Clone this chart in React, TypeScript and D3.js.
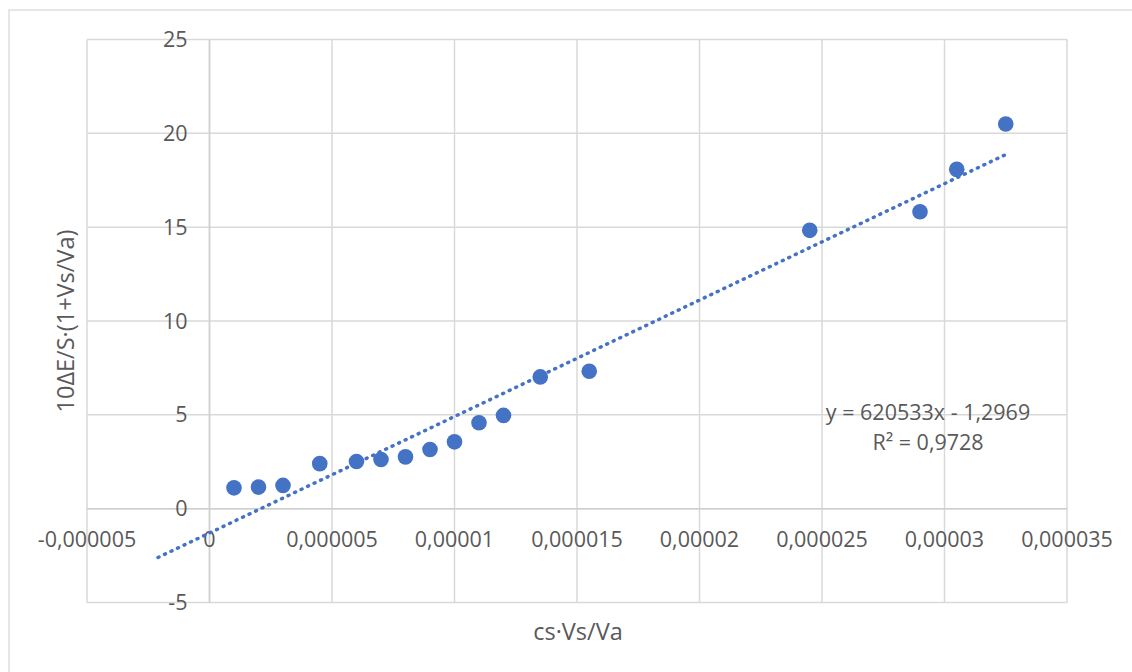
import React from "react";
import * as d3 from "d3";

const xValues = [
  0.000001, 0.000002, 0.000003, 0.0000045, 0.000006, 0.000007, 0.000008, 0.000009,
  0.00001, 0.000011, 0.000012, 0.0000135, 0.0000155, 0.0000245, 0.000029, 0.0000305, 0.0000325,
];
const yValues = [
  1.11, 1.15, 1.24, 2.4, 2.51, 2.62, 2.76, 3.15, 3.56, 4.58, 4.97, 7.02, 7.32, 14.83, 15.82, 18.08, 20.5,
];
const xTicks = [-0.000005, 0, 0.000005, 0.00001, 0.000015, 0.00002, 0.000025, 0.00003, 0.000035];
const xTickLabels = ["-0,000005", "0", "0,000005", "0,00001", "0,000015", "0,00002", "0,000025", "0,00003", "0,000035"];
const yTicks = [-5, 0, 5, 10, 15, 20, 25];
const slope = 620533;
const intercept = -1.2969;
const trendStartX = -0.0000021;
const trendEndX = 0.0000325;
const equationLines = ["y = 620533x - 1,2969", "R² = 0,9728"];
const xTitle = "cs·Vs/Va";
const yTitle = "10ΔE/S·(1+Vs/Va)";

export default function App() {
  const W = 1132, H = 672;
  const left = 87, right = 1067, top = 39.5, bottom = 602.5;
  const x = d3.scaleLinear().domain([-0.000005, 0.000035]).range([left, right]);
  const y = d3.scaleLinear().domain([-5, 25]).range([bottom, top]);
  const font = "'Open Sans', 'Noto Sans', sans-serif";
  const textColor = "#595959";
  const grid = "#d9d9d9";
  const line = d3.line<number>().x((d) => x(d)).y((d) => y(slope * d + intercept));
  const points = xValues.map((v, i) => ({ x: v, y: yValues[i] }));

  return (
    <svg width={W} height={H} style={{ position: "absolute", left: 0, top: 0, background: "#fff" }} fontFamily={font}>
      <rect x={0} y={0} width={W} height={H} fill="#fff" />
      <rect x={9} y={10} width={W + 20} height={H + 20} fill="none" stroke="#d9d9d9" strokeWidth={1.3} />
      {xTicks.map((t) => (
        <line key={"gx" + t} x1={x(t)} x2={x(t)} y1={top} y2={bottom} stroke={grid} strokeWidth={1.5} />
      ))}
      {yTicks.map((t) => (
        <line key={"gy" + t} x1={left} x2={right} y1={y(t)} y2={y(t)} stroke={grid} strokeWidth={1.5} />
      ))}
      <line x1={x(0)} x2={x(0)} y1={top} y2={bottom} stroke="#cfcfcf" strokeWidth={1.5} />
      <line x1={left} x2={right} y1={y(0)} y2={y(0)} stroke="#cfcfcf" strokeWidth={1.5} />
      {yTicks.map((t) => (
        <text key={"ty" + t} x={x(0) - 22} y={y(t)} dy="0.35em" textAnchor="end" fontSize={21.5} fill={textColor}>
          {t}
        </text>
      ))}
      {xTicks.map((t, i) => (
        <text key={"tx" + t} x={x(t)} y={y(0) + 31} dy="0.35em" textAnchor="middle" fontSize={21.5} fill={textColor}>
          {xTickLabels[i]}
        </text>
      ))}
      <path
        d={line([trendStartX, trendEndX]) || ""}
        fill="none"
        stroke="#4472C4"
        strokeWidth={3.5}
        strokeLinecap="round"
        strokeDasharray="1 6.2"
      />
      {points.map((p, i) => (
        <circle key={i} cx={x(p.x)} cy={y(p.y)} r={7.8} fill="#4472C4" />
      ))}
      {equationLines.map((s, i) => (
        <text key={s} x={928} y={412 + i * 30} dy="0.35em" textAnchor="middle" fontSize={21.5} fill={textColor}>
          {s}
        </text>
      ))}
      <text x={578} y={632} dy="0.35em" textAnchor="middle" fontSize={23.5} fill={textColor}>
        {xTitle}
      </text>
      <text
        transform={`translate(66, 321) rotate(-90)`}
        dy="0.35em"
        textAnchor="middle"
        fontSize={23.5}
        fill={textColor}
      >
        {yTitle}
      </text>
    </svg>
  );
}
